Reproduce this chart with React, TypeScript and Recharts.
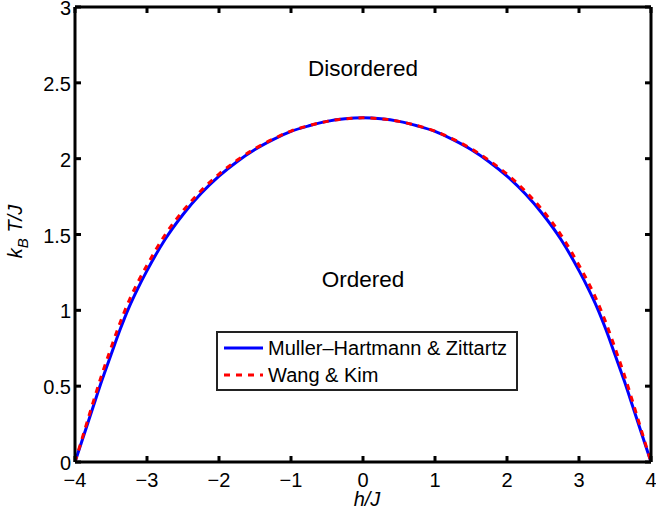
import { Label, Legend, Line, LineChart, ReferenceDot, XAxis, YAxis } from "recharts";

// h/J sample points
const fieldValues = [
  -4, -3.875, -3.75, -3.625, -3.5, -3.375, -3.25, -3.125, -3, -2.75, -2.5, -2.25, -2, -1.75, -1.5, -1.25,
  -1, -0.75, -0.5, -0.25, 0, 0.25, 0.5, 0.75, 1, 1.25, 1.5, 1.75, 2, 2.25, 2.5, 2.75, 3, 3.125, 3.25,
  3.375, 3.5, 3.625, 3.75, 3.875, 4,
];

// k_B T/J, Muller-Hartmann & Zittartz (solid blue)
const mullerHartmann = [
  0, 0.18, 0.361, 0.54, 0.707, 0.872, 1.02, 1.147, 1.262, 1.467, 1.632, 1.77, 1.885, 1.98, 2.06, 2.125,
  2.18, 2.217, 2.246, 2.263, 2.269, 2.263, 2.246, 2.217, 2.18, 2.125, 2.06, 1.98, 1.885, 1.77, 1.632,
  1.467, 1.262, 1.147, 1.02, 0.872, 0.707, 0.54, 0.361, 0.18, 0,
];

// k_B T/J, Wang & Kim (dashed red)
const wangKim = [
  0, 0.195, 0.391, 0.58, 0.752, 0.917, 1.063, 1.187, 1.297, 1.497, 1.656, 1.788, 1.898, 1.989, 2.066, 2.129,
  2.182, 2.218, 2.246, 2.263, 2.269, 2.263, 2.246, 2.218, 2.182, 2.129, 2.066, 1.989, 1.898, 1.788, 1.656,
  1.497, 1.297, 1.187, 1.063, 0.917, 0.752, 0.58, 0.391, 0.195, 0,
];

const xTicks = [-4, -3, -2, -1, 0, 1, 2, 3, 4];
const yTicks = [0, 0.5, 1, 1.5, 2, 2.5, 3];

const data = fieldValues.map((h, i) => ({ h, mh: mullerHartmann[i], wk: wangKim[i] }));

const FONT = '"Liberation Sans", Arial, Helvetica, sans-serif';
const AXIS = { stroke: "#000", strokeWidth: 3 };
const TICK_LEN = 6;
const MARGIN = 10;

const fmtTick = (v: number) => (v < 0 ? `\u2212${Math.abs(v)}` : `${v}`);

// tickSize is 0, so the axis line sits tickMargin away from the tick text anchor
function BottomTick({ x, y, payload }: any) {
  const axisY = y - MARGIN;
  return (
    <g>
      <line x1={x} x2={x} y1={axisY} y2={axisY - TICK_LEN} stroke="#000" strokeWidth={3} />
      <text x={x} y={axisY + 25} textAnchor="middle" fontFamily={FONT} fontSize={20} fill="#000">
        {fmtTick(payload.value)}
      </text>
    </g>
  );
}

function LeftTick({ x, y, payload }: any) {
  const axisX = x + MARGIN;
  return (
    <g>
      <line x1={axisX} x2={axisX + TICK_LEN} y1={y} y2={y} stroke="#000" strokeWidth={3} />
      <text x={axisX - 4} y={y + 8} textAnchor="end" fontFamily={FONT} fontSize={20} fill="#000">
        {fmtTick(payload.value)}
      </text>
    </g>
  );
}

function TopTick({ x, y }: any) {
  return <line x1={x} x2={x} y1={y} y2={y + TICK_LEN} stroke="#000" strokeWidth={3} />;
}

function RightTick({ x, y }: any) {
  return <line x1={x} x2={x - TICK_LEN} y1={y} y2={y} stroke="#000" strokeWidth={3} />;
}

function XTitle({ viewBox }: any) {
  return (
    <text
      x={viewBox.x + viewBox.width / 2 + 4}
      y={viewBox.y + 44}
      textAnchor="middle"
      fontFamily={FONT}
      fontSize={20}
      fontStyle="italic"
      fill="#000"
    >
      h/J
    </text>
  );
}

function YTitle({ viewBox }: any) {
  const x = 22;
  const y = viewBox.y + viewBox.height / 2 - 3;
  return (
    <text
      x={x}
      y={y}
      transform={`rotate(-90, ${x}, ${y})`}
      textAnchor="middle"
      fontFamily={FONT}
      fontSize={20}
      fontStyle="italic"
      fill="#000"
    >
      <tspan>k</tspan>
      <tspan dy={6} fontSize={15}>B</tspan>
      <tspan dy={-6}> T/J</tspan>
    </text>
  );
}

function LegendBox({ payload }: any) {
  return (
    <svg width={302} height={60} style={{ display: "block" }}>
      <rect x={1} y={1} width={300} height={58} fill="#fff" stroke="#222" strokeWidth={2} />
      {(payload || []).map((entry: any, i: number) => {
        const cy = 17 + i * 27;
        return (
          <g key={entry.value}>
            <line
              x1={8}
              x2={47}
              y1={cy}
              y2={cy}
              stroke={entry.color}
              strokeWidth={3}
              strokeDasharray={entry.payload?.strokeDasharray}
            />
            <text x={52} y={cy + 7} fontFamily={FONT} fontSize={20} fill="#000">
              {entry.value}
            </text>
          </g>
        );
      })}
    </svg>
  );
}

function regionText(label: string) {
  return (p: any) => (
    <text x={p.cx} y={p.cy} textAnchor="middle" fontFamily={FONT} fontSize={22.5} fill="#000">
      {label}
    </text>
  );
}

export default function App() {
  return (
    <div style={{ position: "absolute", left: 0, top: 0, background: "#fff" }}>
      <LineChart width={656} height={513} data={data} margin={{ top: 6, right: 4, bottom: 0, left: 0 }}>
        <XAxis
          xAxisId="bottom"
          dataKey="h"
          type="number"
          domain={[-4, 4]}
          ticks={xTicks}
          interval={0}
          allowDataOverflow
          height={51}
          axisLine={AXIS}
          tickLine={false}
          tickSize={0}
          tickMargin={MARGIN}
          tick={BottomTick}
        >
          <Label content={XTitle} />
        </XAxis>
        <XAxis
          xAxisId="top"
          orientation="top"
          dataKey="h"
          type="number"
          domain={[-4, 4]}
          ticks={xTicks}
          interval={0}
          allowDataOverflow
          height={1}
          axisLine={AXIS}
          tickLine={false}
          tickSize={0}
          tickMargin={0}
          tick={TopTick}
        />
        <YAxis
          yAxisId="left"
          type="number"
          domain={[0, 3]}
          ticks={yTicks}
          interval={0}
          allowDataOverflow
          width={75}
          axisLine={AXIS}
          tickLine={false}
          tickSize={0}
          tickMargin={MARGIN}
          tick={LeftTick}
        >
          <Label content={YTitle} />
        </YAxis>
        <YAxis
          yAxisId="right"
          orientation="right"
          type="number"
          domain={[0, 3]}
          ticks={yTicks}
          interval={0}
          allowDataOverflow
          width={1}
          axisLine={AXIS}
          tickLine={false}
          tickSize={0}
          tickMargin={0}
          tick={RightTick}
        />
        <Line
          xAxisId="bottom"
          yAxisId="left"
          type="monotone"
          dataKey="mh"
          name={"Muller\u2013Hartmann & Zittartz"}
          stroke="#0000ff"
          strokeWidth={3}
          dot={false}
          isAnimationActive={false}
        />
        <Line
          xAxisId="bottom"
          yAxisId="left"
          type="monotone"
          dataKey="wk"
          name="Wang & Kim"
          stroke="#ff0000"
          strokeWidth={3}
          strokeDasharray="6 6"
          dot={false}
          isAnimationActive={false}
        />
        <ReferenceDot xAxisId="bottom" yAxisId="left" x={0} y={2.545} r={1} shape={regionText("Disordered")} />
        <ReferenceDot xAxisId="bottom" yAxisId="left" x={0} y={1.154} r={1} shape={regionText("Ordered")} />
        <Legend
          layout="horizontal"
          verticalAlign="middle"
          align="center"
          content={LegendBox}
          wrapperStyle={{ left: 216, top: 331, width: 302, height: 60 }}
        />
      </LineChart>
    </div>
  );
}
